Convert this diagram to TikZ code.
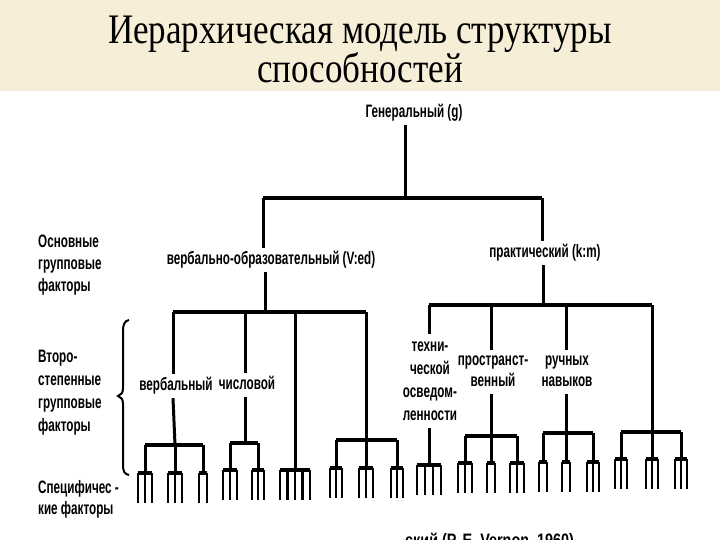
\documentclass[tikz,border=0pt]{standalone}
\usepackage{fontspec}
\setmainfont{Liberation Serif}
\newfontfamily\diagfont{Liberation Sans}
\usepackage{graphicx}
\definecolor{beige}{RGB}{247,238,215}
\newcommand\lbl[2][c]{\scalebox{0.65}[1]{\begin{tabular}{@{}#1@{}}#2\end{tabular}}}
\newcommand\mycomb[4]{%
  \draw[combtop] ({#1-#3},#2) -- ({#1+#3},#2);
  \foreach \k in {1,...,#4}{%
    \pgfmathsetmacro\px{#1-#3+(\k-1)*2*#3/(#4-1)}%
    \draw[prong] (\px,#2) -- (\px,#2+30);}%
}
\tikzset{
  lab/.style={font=\diagfont\bfseries\fontsize{18}{22}\selectfont, inner sep=1pt, fill=white},
  side/.style={font=\diagfont\bfseries\fontsize{18}{22}\selectfont, inner sep=0pt, anchor=west},
  ln/.style={line width=3pt, line cap=butt},
  bar/.style={line width=3.6pt, line cap=square},
  combtop/.style={line width=4pt},
  prong/.style={line width=2.3pt},
  ttl/.style={font=\fontsize{35}{40}\selectfont, anchor=base, inner sep=0pt}
}
\begin{document}
\begin{tikzpicture}[x=1pt,y=-1pt]
\useasboundingbox (0,0) rectangle (720,540);
\fill[white] (0,0) rectangle (720,540);
\fill[beige] (0,0) rectangle (720,91);
% title
\node[ttl] (t1) at (360,44) {\scalebox{1}[1.2]{Иерархическая модель структуры}};
\node[ttl] (t2) at (360,83) {\scalebox{1}[1.2]{способностей}};
% side labels
\node[side] (s1) at (38,265) {\lbl[l]{Основные\\групповые\\факторы}};
\node[side,font=\diagfont\bfseries\fontsize{18}{23}\selectfont] (s2) at (38,392) {\lbl[l]{Второ-\\степенные\\групповые\\факторы}};
\node[side,font=\diagfont\bfseries\fontsize{18}{21}\selectfont] (s3) at (38,500) {\lbl[l]{Специфичес -\\кие факторы}};
% brace
\draw[line width=2pt] (129,320) .. controls (124,321) and (123,325) .. (123,332) -- (123,388) .. controls (123,393) and (121,395) .. (118,396) .. controls (121,397) and (123,399) .. (123,404) -- (123,464) .. controls (123,471) and (124,474) .. (129,475);
% nodes
\node[lab] (g) at (414,113) {\lbl{Генеральный (g)}};
\node[lab] (ved) at (271,260) {\lbl{вербально-образовательный (V:ed)}};
\node[lab] (km) at (545,253) {\lbl{практический (k:m)}};
\node[lab] (verb) at (176,386) {\lbl{вербальный}};
\node[lab] (num) at (247,385) {\lbl{числовой}};
\node[lab,font=\diagfont\bfseries\fontsize{18}{23}\selectfont] (tech) at (430,381) {\lbl{техни-\\ческой\\осведом-\\ленности}};
\node[lab,font=\diagfont\bfseries\fontsize{18}{21}\selectfont] (spat) at (493,372) {\lbl{пространст-\\венный}};
\node[lab,font=\diagfont\bfseries\fontsize{18}{21}\selectfont] (man) at (567,372) {\lbl{ручных\\навыков}};
% top level
\coordinate (gb) at (405,198);
\coordinate (bl) at (263,198);
\coordinate (br) at (542,198);
\draw[ln] (gb |- g.south) -- (gb);
\draw[bar] (bl) -- (br);
\draw[ln] (bl) -- (bl |- ved.north);
\draw[ln] (br) -- (br |- km.north);
% verbal branch
\coordinate (vj) at (265,312);
\coordinate (v1) at (173,312);
\coordinate (v2) at (245,312);
\coordinate (v3) at (295,312);
\coordinate (v4) at (366,312);
\draw[ln] (vj |- ved.south) -- (vj);
\draw[bar] (v1) -- (v4);
\draw[ln] (v1) -- (v1 |- verb.north);
\draw[ln] (v2) -- (v2 |- num.north);
\draw[ln] (v3) -- (295,470);
\draw[ln] (v4) -- (366,440);
% practical branch
\coordinate (pj) at (543,305);
\coordinate (p1) at (429,305);
\coordinate (p2) at (491,305);
\coordinate (p3) at (566,305);
\coordinate (p4) at (652,305);
\draw[ln] (pj |- km.south) -- (pj);
\draw[bar] (p1) -- (p4);
\draw[ln] (p1) -- (p1 |- tech.north);
\draw[ln] (p2) -- (p2 |- spat.north);
\draw[ln] (p3) -- (p3 |- man.north);
\draw[ln] (p4) -- (652,432);
% second level drops
\draw[ln] (v1 |- verb.south) -- (175,445);
\draw[ln] (v2 |- num.south) -- (245,443);
\draw[ln] (p1 |- tech.south) -- (429,465);
\draw[ln] (p2 |- spat.south) -- (491,436);
\draw[ln] (p3 |- man.south) -- (566,433);
% third level bars and drops
\draw[bar] (145,445) -- (203,445);
\foreach \x in {145,175,203} \draw[ln] (\x,445) -- (\x,473);
\draw[bar] (230,443) -- (258,443);
\foreach \x in {230,258} \draw[ln] (\x,443) -- (\x,470);
\draw[bar] (336,440) -- (397,440);
\foreach \x in {336,366,397} \draw[ln] (\x,440) -- (\x,468);
\draw[bar] (465,436) -- (517,436);
\foreach \x in {465,491,517} \draw[ln] (\x,436) -- (\x,463);
\draw[bar] (543,433) -- (593,433);
\foreach \x in {543,566,593} \draw[ln] (\x,433) -- (\x,462);
\draw[bar] (621,432) -- (681,432);
\foreach \x in {621,652,681} \draw[ln] (\x,432) -- (\x,459);
% specific factor combs
\mycomb{145}{473}{7}{3}
\mycomb{175}{473}{7}{3}
\mycomb{203}{473}{4}{2}
\mycomb{230}{470}{7}{3}
\mycomb{258}{470}{6}{3}
\mycomb{295}{470}{15}{5}
\mycomb{336}{468}{6}{3}
\mycomb{366}{468}{7}{3}
\mycomb{397}{468}{6}{3}
\mycomb{429}{465}{12}{4}
\mycomb{465}{463}{7}{3}
\mycomb{491}{463}{4}{2}
\mycomb{517}{463}{7}{3}
\mycomb{543}{462}{4}{2}
\mycomb{566}{462}{4}{2}
\mycomb{593}{462}{6}{3}
\mycomb{621}{459}{6}{3}
\mycomb{652}{459}{6}{3}
\mycomb{681}{459}{6}{3}
% caption, cut off by the lower edge as in the reference
\begin{scope}
\clip (0,0) rectangle (720,540);
\node[font=\diagfont\bfseries\fontsize{18}{22}\selectfont, anchor=base west, inner sep=0pt] (cap) at (405,546) {\scalebox{0.8}[1]{ский (P. E. Vernon, 1960)}};
\end{scope}
\end{tikzpicture}
\end{document}
